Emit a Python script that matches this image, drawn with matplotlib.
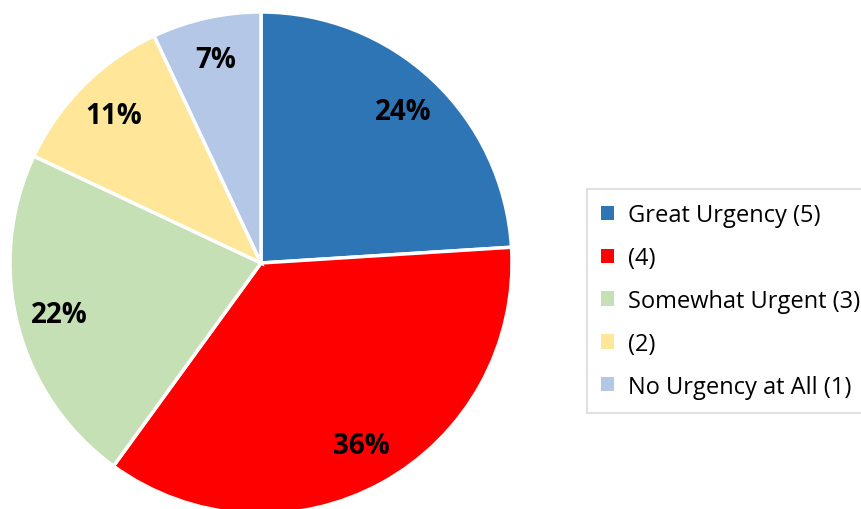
import matplotlib
matplotlib.use("Agg")
import matplotlib.pyplot as plt
from matplotlib.patches import Patch

labels = ["Great Urgency (5)", "(4)", "Somewhat Urgent (3)", "(2)", "No Urgency at All (1)"]
shares = [24, 36, 22, 11, 7]
colors = ["#2E75B6", "#FF0000", "#C5E0B4", "#FFE699", "#B4C7E7"]

plt.rcParams['font.family'] = ['Open Sans', 'DejaVu Sans']

W, H = 861, 510
fig = plt.figure(figsize=(W / 100, H / 100), dpi=100)
ax = fig.add_axes([0, 0, 1, 1])

wedges, texts, autotexts = ax.pie(
    shares,
    colors=colors,
    startangle=90,
    counterclock=False,
    center=(261, H - 264),
    radius=251,
    autopct='%d%%',
    pctdistance=0.83,
    wedgeprops=dict(edgecolor='white', linewidth=2.5),
    textprops=dict(fontsize=20, fontweight='bold', color='black'),
)

ax.set_xlim(0, W)
ax.set_ylim(0, H)
ax.set_aspect('equal')
ax.axis('off')

handles = [Patch(facecolor=c, edgecolor='none') for c in colors]
leg = fig.legend(
    handles, labels,
    loc='upper left',
    bbox_to_anchor=(587 / W, 1 - 190 / H),
    fontsize=17,
    frameon=True,
    fancybox=False,
    handlelength=0.55,
    handleheight=0.55,
    handletextpad=0.6,
    labelspacing=0.8,
    borderpad=0.6,
    borderaxespad=0,
)
leg.get_frame().set_edgecolor('#D9D9D9')
leg.get_frame().set_linewidth(1.5)

fig.savefig("out.png", dpi=100)
